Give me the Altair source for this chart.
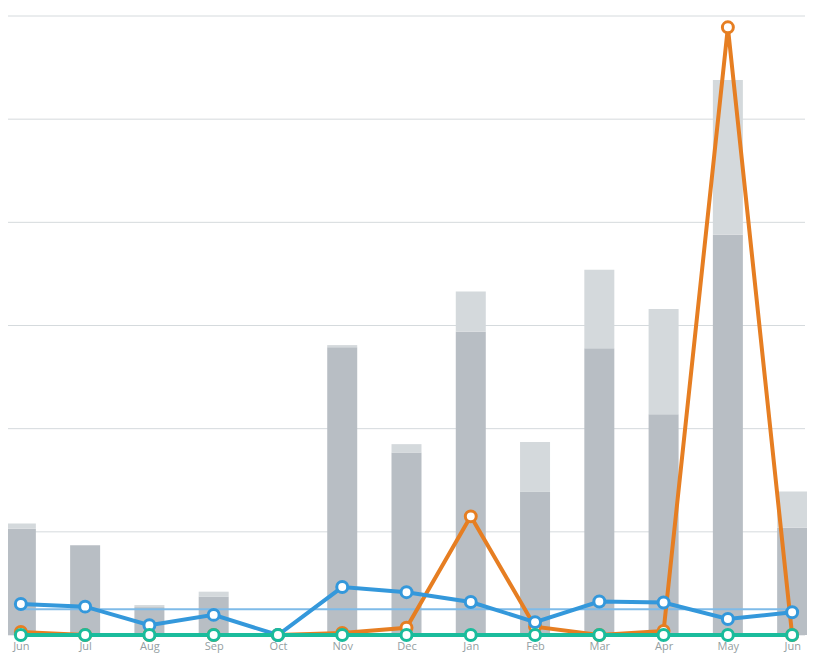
import altair as alt
import pandas as pd

months = ["Jun 15", "Jul 15", "Aug 15", "Sep 15", "Oct 15", "Nov 15", "Dec 15",
          "Jan 16", "Feb 16", "Mar 16", "Apr 16", "May 16", "Jun 16"]
bar_dark = [10.3, 8.7, 2.7, 3.7, 0.0, 27.9, 17.7, 29.4, 13.9, 27.8, 21.4, 38.8, 10.4]
bar_light = [0.5, 0.0, 0.2, 0.5, 0.0, 0.2, 0.8, 3.9, 4.8, 7.6, 10.2, 15.0, 3.5]
orange = [0.3, 0.0, 0.0, 0.0, 0.0, 0.2, 0.7, 11.5, 0.8, 0.0, 0.4, 58.9, 0.0]
blue = [3.0, 2.75, 0.95, 1.95, 0.0, 4.65, 4.15, 3.2, 1.25, 3.25, 3.15, 1.55, 2.2]
green = [0.0] * 13
blue_avg = 2.5
grid_values = [0, 10, 20, 30, 40, 50, 60]

bars = pd.DataFrame(
    [{"month": m, "part": "dark", "ord": 0, "v": d} for m, d in zip(months, bar_dark)]
    + [{"month": m, "part": "light", "ord": 1, "v": l} for m, l in zip(months, bar_light)]
)
lines = {
    "orange": (pd.DataFrame({"month": months, "v": orange}), "#e67e22"),
    "blue": (pd.DataFrame({"month": months, "v": blue}), "#3498db"),
    "green": (pd.DataFrame({"month": months, "v": green}), "#1abc9c"),
}
avg_df = pd.DataFrame({"m1": [months[0]], "m2": [months[-1]], "v": [blue_avg]})
grid_df = pd.DataFrame({"g": grid_values})

xscale = alt.Scale(type="point", domain=months, padding=0.2)
yscale = alt.Scale(domain=[0, 60], nice=False)

xenc = alt.X("month:N", scale=xscale, sort=months,
             axis=alt.Axis(title=None, domain=False, ticks=False, grid=False,
                           labelAngle=0, labelFontSize=11, labelColor="#939ea1",
                           labelFont="Open Sans", labelPadding=5,
                           labelExpr="split(datum.label, ' ')[0]"))

grid = alt.Chart(grid_df).mark_rule(color="#d5dadd", strokeWidth=1).encode(
    y=alt.Y("g:Q", scale=yscale, axis=None),
)

bar_layer = alt.Chart(bars).mark_bar(size=30).encode(
    x=xenc,
    y=alt.Y("v:Q", stack="zero", scale=yscale, axis=None),
    color=alt.Color("part:N", scale=alt.Scale(domain=["dark", "light"],
                                              range=["#b8bec4", "#d4d9dc"]), legend=None),
    order=alt.Order("ord:Q"),
)

rule = alt.Chart(avg_df).mark_rule(color="#7fbbe8", strokeWidth=2).encode(
    x=alt.X("m1:N", scale=xscale, sort=months),
    x2="m2:N",
    y=alt.Y("v:Q", scale=yscale),
)

layers = [grid, bar_layer, rule]
for name in ["orange", "blue", "green"]:
    df, col = lines[name]
    base = alt.Chart(df).encode(
        x=alt.X("month:N", scale=xscale, sort=months),
        y=alt.Y("v:Q", scale=yscale),
    )
    layers.append(base.mark_line(color=col, strokeWidth=4))
    layers.append(base.mark_point(filled=True, fill="white", stroke=col,
                                  strokeWidth=3, size=120, opacity=1))

chart = alt.layer(*layers).properties(
    width=797, height=619,
    autosize=alt.AutoSizeParams(type="none"),
    padding={"left": 0, "top": 8, "right": 2, "bottom": 25},
).configure_view(stroke=None)

chart.save("out.html", embed_options={"renderer": "svg", "actions": False})
